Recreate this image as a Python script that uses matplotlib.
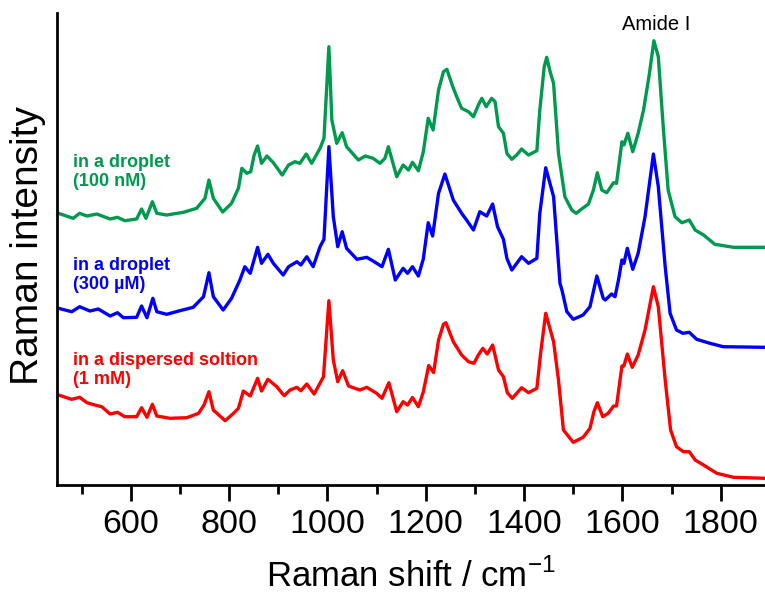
import matplotlib
matplotlib.use("Agg")
import matplotlib.pyplot as plt
from matplotlib.ticker import MultipleLocator


# spectra (Raman shift in cm-1, intensity in a.u., already stacked)
wn_green = [453, 483, 496, 511, 531, 558, 573, 588, 612, 622, 631, 644, 653, 673, 707, 734, 751, 759, 768, 787,
            805, 819, 826, 836, 844, 851, 858, 866, 877, 890, 908, 921, 934, 944, 957, 968, 985, 993, 1003, 1009,
            1019, 1030, 1039, 1063, 1077, 1093, 1107, 1117, 1124, 1141, 1154, 1165, 1173, 1185, 1195, 1205, 1215,
            1226, 1236, 1243, 1255, 1263, 1273, 1287, 1297, 1307, 1314, 1323, 1334, 1341, 1348, 1358, 1365, 1375,
            1385, 1395, 1409, 1426, 1432, 1441, 1446, 1453, 1460, 1470, 1483, 1497, 1506, 1517, 1531, 1541, 1549,
            1558, 1568, 1582, 1588, 1599, 1603, 1611, 1621, 1632, 1643, 1655, 1664, 1673, 1683, 1693, 1707, 1721,
            1736, 1748, 1765, 1788, 1826, 1890]
int_green = [270.7, 265.7, 270.7, 268, 270, 265, 266.7, 263.3, 265, 275, 265.7, 282.3, 270.7, 269, 271.7, 275.7,
             285.7, 304, 285.7, 272, 280.7, 295.7, 315.7, 310.7, 312.3, 329, 338, 320.7, 328, 321.3, 309, 319,
             322.3, 320.7, 330, 320.7, 335.7, 345.7, 437.3, 364, 340.7, 351.3, 337.3, 324, 328, 325.7, 320.7, 325.7,
             337.3, 307.3, 319, 314, 321.7, 313.3, 332, 365.7, 354, 394, 412.3, 414.7, 397.3, 387.3, 375.7, 372.3,
             367.3, 379, 385.7, 377.3, 385.7, 382.3, 357.3, 350.7, 330.7, 324.7, 329, 335, 329, 333.3, 374, 417.3,
             426.7, 412.3, 400.7, 330.7, 287.3, 274, 270.7, 275, 280, 294, 311.3, 294, 291.3, 301.3, 300.7, 342.3,
             339, 350.7, 332.3, 350.7, 374, 410.7, 443.3, 427.3, 357.3, 294, 267.3, 261.3, 264, 254, 249, 239.7,
             236.7, 236.7]

wn_blue = [453, 480, 496, 517, 534, 558, 573, 585, 612, 622, 633, 645, 653, 673, 700, 727, 748, 759, 768, 788,
           805, 822, 832, 843, 858, 866, 879, 890, 910, 921, 938, 946, 958, 971, 985, 993, 1003, 1012, 1021, 1030,
           1039, 1060, 1080, 1093, 1111, 1124, 1138, 1154, 1163, 1173, 1185, 1195, 1205, 1214, 1226, 1239, 1256,
           1273, 1283, 1297, 1310, 1324, 1336, 1346, 1358, 1365, 1375, 1395, 1409, 1426, 1432, 1444, 1460, 1473,
           1477, 1487, 1500, 1520, 1534, 1548, 1561, 1565, 1578, 1585, 1592, 1599, 1603, 1610, 1621, 1632, 1646,
           1663, 1673, 1687, 1697, 1710, 1723, 1736, 1751, 1778, 1805, 1890]
int_blue = [175.7, 172.3, 177.3, 173, 175, 168, 171.3, 166.3, 166.7, 178, 166.3, 185.7, 172.3, 169.7, 173.3, 176.7,
            187.3, 211.3, 187.3, 174, 185.7, 204, 217.3, 210.7, 236.7, 220.7, 229.7, 220.7, 209, 217.3, 222.3, 219,
            227.3, 217.3, 237.3, 244.7, 337.3, 267.3, 237.3, 252.3, 235.7, 224.7, 226.7, 223, 217.3, 234.7, 204,
            215.7, 210.7, 217.3, 208, 225, 261.3, 248, 290.7, 310, 284, 270.7, 264, 254, 272.3, 268, 280, 257.3,
            244.7, 225.7, 214, 227.3, 220.7, 225.7, 270.7, 316.3, 287.3, 200.7, 194, 172.3, 164.7, 169, 177.3, 208,
            185.7, 184, 190, 187.3, 204, 224, 220.7, 235.7, 214.7, 230.7, 267.3, 330, 297.3, 217.3, 170.7, 154,
            150.7, 151.7, 144.7, 140.7, 137.3, 136.7]

wn_red = [453, 480, 496, 511, 527, 541, 558, 573, 588, 612, 622, 633, 644, 653, 680, 714, 738, 749, 759, 768,
          792, 809, 819, 829, 843, 858, 866, 879, 897, 912, 924, 938, 946, 958, 973, 992, 1003, 1012, 1021, 1031,
          1043, 1066, 1080, 1100, 1111, 1125, 1141, 1154, 1163, 1173, 1185, 1195, 1206, 1216, 1226, 1236, 1241,
          1256, 1273, 1287, 1298, 1307, 1316, 1325, 1336, 1348, 1358, 1366, 1376, 1395, 1409, 1426, 1434, 1444,
          1460, 1470, 1480, 1500, 1520, 1534, 1542, 1549, 1560, 1571, 1582, 1588, 1599, 1603, 1610, 1620, 1632,
          1646, 1663, 1673, 1687, 1698, 1710, 1724, 1736, 1748, 1765, 1792, 1826, 1890]
int_red = [89, 84.7, 86.7, 81.3, 79, 77.3, 70, 71.7, 67.3, 67.3, 76.3, 66.7, 79.7, 68, 65.7, 66.3, 70.7, 79, 92.3,
           74, 63.3, 70.7, 75.7, 93, 88, 105.7, 93, 104.7, 97.3, 88.3, 94, 96.7, 93.3, 100, 90, 107.3, 183.3, 124,
           102.3, 113.3, 98, 94, 96.7, 90.7, 85.7, 101.3, 72.3, 82.3, 79, 86.5, 77.3, 92, 118.5, 111.5, 144, 159.7,
           161.3, 142.3, 129, 122.3, 120.7, 129, 135.7, 130, 139, 114, 107.3, 91.3, 85.7, 96.3, 91.3, 95.7, 132.3,
           170.7, 142.3, 104, 54, 41.7, 46.7, 55.7, 72.3, 81.3, 67.3, 70.7, 78, 78, 118, 118, 130, 116.7, 129, 154,
           197.3, 177.3, 104, 54, 37.3, 32.3, 32.3, 24, 19, 10.7, 6.7, 5.7]

labels_green = ["in a droplet", "(100 nM)"]
labels_blue = ["in a droplet", "(300 µM)"]
labels_red = ["in a dispersed soltion", "(1 mM)"]

green = "#009a4e"
blue = "#0000ff"
red = "#ff0000"

plt.rcParams['font.family'] = ['Liberation Sans', 'DejaVu Sans']

fig = plt.figure(figsize=(7.65, 5.97), dpi=100)
ax = fig.add_axes([0.0745, 0.1876, 0.9255, 0.7911])

ax.plot(wn_green, int_green, color=green, lw=2.4, solid_joinstyle='round')
ax.plot(wn_blue, int_blue, color=blue, lw=2.4, solid_joinstyle='round')
ax.plot(wn_red, int_red, color=red, lw=2.4, solid_joinstyle='round')

ax.set_xlim(450, 1890)
ax.set_ylim(-1, 471.3)

ax.spines['top'].set_visible(False)
ax.spines['right'].set_visible(False)
ax.spines['left'].set_linewidth(2)
ax.spines['bottom'].set_linewidth(2)

ax.set_yticks([])
ax.xaxis.set_major_locator(MultipleLocator(200))
ax.xaxis.set_minor_locator(MultipleLocator(100))
ax.tick_params(axis='x', which='major', length=11.5, width=2, pad=6, labelsize=24.5)
ax.tick_params(axis='x', which='minor', length=6.5, width=2)

ax.set_xlabel("Raman shift / cm$^{\\mathregular{-1}}$", fontsize=25)
ax.xaxis.set_label_coords(0.5, -0.155)
ax.set_ylabel("Raman intensity", fontsize=28)
ax.yaxis.set_label_coords(-0.016, 0.507)

# curve labels, one text per line
for lines, col, y0 in [(labels_green, green, 0.674), (labels_blue, blue, 0.455), (labels_red, red, 0.254)]:
    for i, s in enumerate(lines):
        ax.text(0.023, y0 - i * 0.04, s, color=col, fontsize=13, fontweight='bold',
                transform=ax.transAxes, va='baseline', ha='left')

ax.text(0.847, 0.975, "Amide I", fontsize=14.5, ha='center', va='center', transform=ax.transAxes)

fig.savefig("out.png", dpi=100)
